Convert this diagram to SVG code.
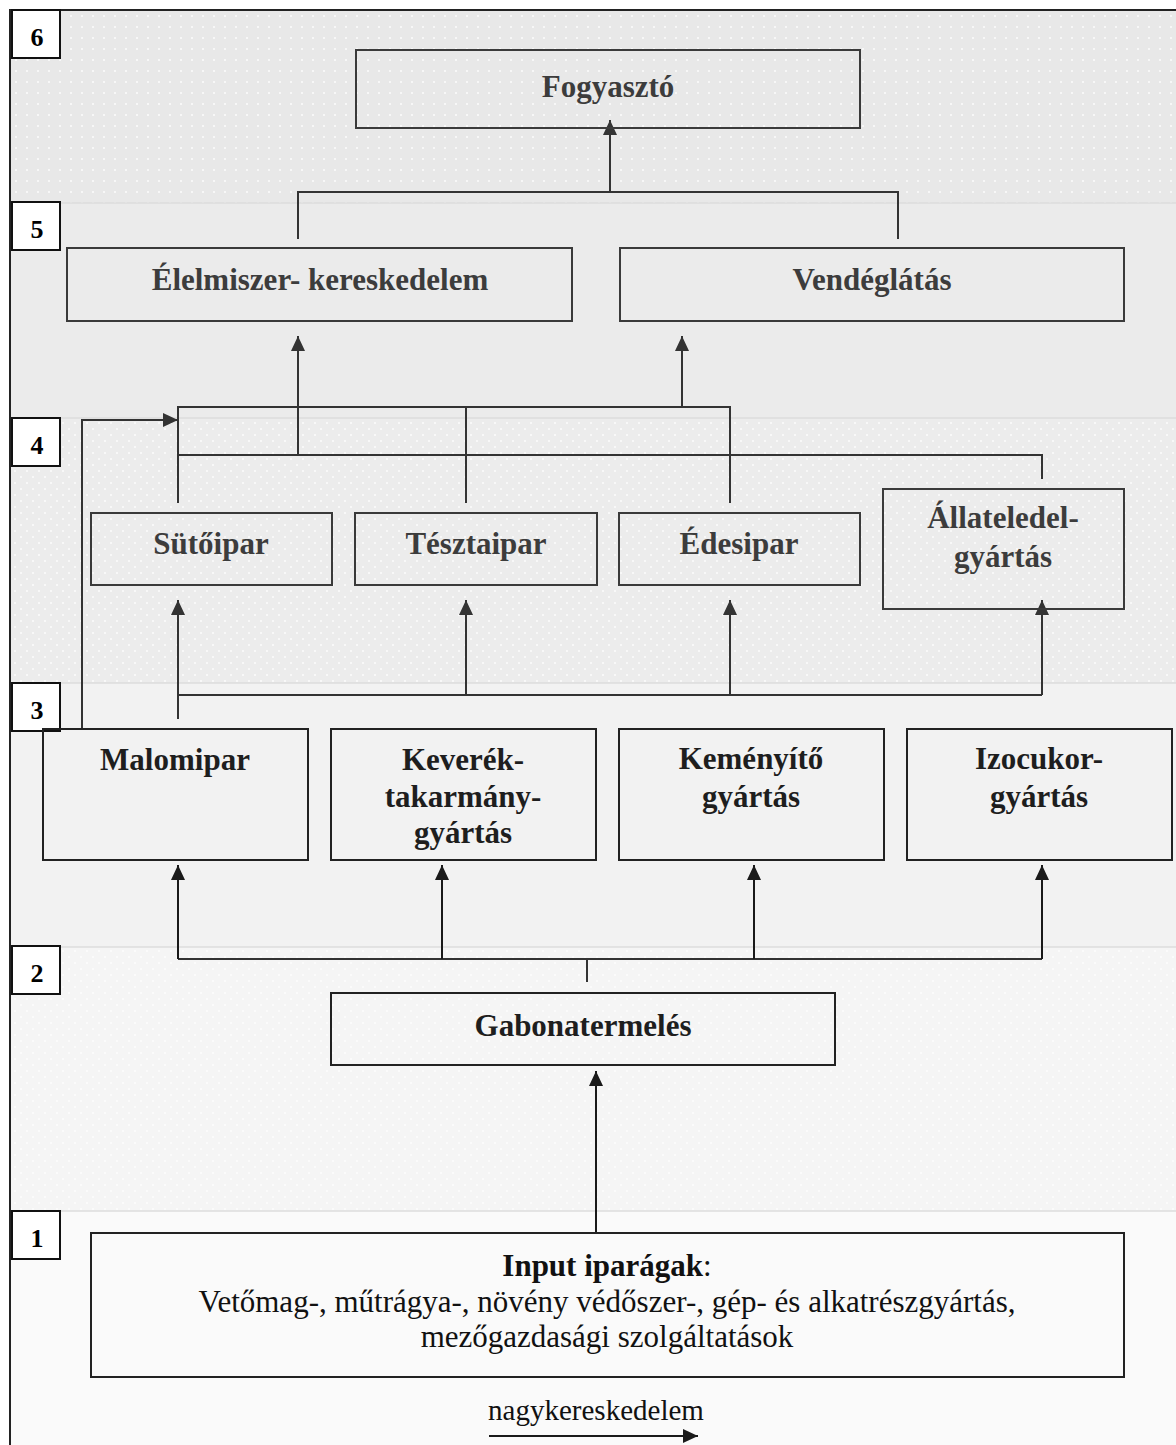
<svg xmlns="http://www.w3.org/2000/svg" width="1176" height="1445" viewBox="0 0 1176 1445">
<style>
text{font-family:"Liberation Serif","Times New Roman",serif}
.nt{font-size:31px;font-weight:bold;fill:#3c3c3c;text-anchor:middle}
.nd{font-size:31px;font-weight:bold;fill:#1e1e1e;text-anchor:middle}
.lb{font-size:26px;font-weight:bold;fill:#000;text-anchor:middle}
.bx{fill:none;stroke:#3a3a3a;stroke-width:2}
.bd{fill:none;stroke:#222;stroke-width:2}
.lbox{fill:#fff;stroke:#111;stroke-width:2}
.cn{fill:none;stroke:#333;stroke-width:2}
.ca{fill:none;stroke:#333;stroke-width:2;marker-end:url(#ah)}
.cb{fill:none;stroke:#1a1a1a;stroke-width:2;marker-end:url(#ahb)}
</style>
<defs>
<marker id="ah" markerUnits="userSpaceOnUse" markerWidth="16" markerHeight="16" viewBox="0 0 16 16" refX="15" refY="8" orient="auto">
<path d="M0,1 L15,8 L0,15 z" fill="#333"/>
</marker>
<marker id="ahb" markerUnits="userSpaceOnUse" markerWidth="16" markerHeight="16" viewBox="0 0 16 16" refX="15" refY="8" orient="auto">
<path d="M0,1 L15,8 L0,15 z" fill="#1a1a1a"/>
</marker>
<pattern id="p6" width="11" height="11" patternUnits="userSpaceOnUse">
<rect width="11" height="11" fill="#e8e8e8"/>
<rect x="4" y="4" width="2" height="2" fill="#f7f7f7"/>
</pattern>
<pattern id="p4" width="12" height="12" patternUnits="userSpaceOnUse">
<rect width="12" height="12" fill="#ececec"/>
<rect x="2" y="2" width="2" height="2" fill="#f8f8f8"/>
<rect x="8" y="8" width="2" height="2" fill="#f8f8f8"/>
</pattern>
<pattern id="p2" width="12" height="12" patternUnits="userSpaceOnUse">
<rect width="12" height="12" fill="#f5f5f5"/>
<rect x="2" y="2" width="2" height="2" fill="#fbfbfb"/>
<rect x="8" y="8" width="2" height="2" fill="#fbfbfb"/>
</pattern>
</defs>

<g id="bands">
<rect x="10" y="10" width="1166" height="193" fill="url(#p6)"/>
<rect x="10" y="203" width="1166" height="215" fill="#ebebeb"/>
<rect x="10" y="418" width="1166" height="265" fill="url(#p4)"/>
<rect x="10" y="683" width="1166" height="264" fill="#f2f2f2"/>
<rect x="10" y="947" width="1166" height="264" fill="url(#p2)"/>
<rect x="10" y="1211" width="1166" height="234" fill="#fafafa"/>
<g stroke="#dcdcdc" stroke-width="1.5">
<line x1="10" y1="203" x2="1176" y2="203"/>
<line x1="10" y1="418" x2="1176" y2="418"/>
<line x1="10" y1="683" x2="1176" y2="683"/>
<line x1="10" y1="947" x2="1176" y2="947"/>
<line x1="10" y1="1211" x2="1176" y2="1211"/>
</g>
<path d="M10,1445 L10,10 L1176,10" fill="none" stroke="#222" stroke-width="2"/>
</g>

<g id="level-labels">
<g id="label-6"><rect class="lbox" x="12" y="10" width="48" height="48"/><text class="lb" x="37" y="46">6</text></g>
<g id="label-5"><rect class="lbox" x="12" y="202" width="48" height="48"/><text class="lb" x="37" y="238">5</text></g>
<g id="label-4"><rect class="lbox" x="12" y="418" width="48" height="48"/><text class="lb" x="37" y="454">4</text></g>
<g id="label-3"><rect class="lbox" x="12" y="683" width="48" height="48"/><text class="lb" x="37" y="719">3</text></g>
<g id="label-2"><rect class="lbox" x="12" y="946" width="48" height="48"/><text class="lb" x="37" y="982">2</text></g>
<g id="label-1"><rect class="lbox" x="12" y="1211" width="48" height="48"/><text class="lb" x="37" y="1247">1</text></g>
</g>

<g id="connectors">
<path class="cn" d="M298,239 V192 H898 V239"/>
<path class="ca" d="M610,192 V120"/>
<path class="ca" d="M298,455 V336"/>
<path class="ca" d="M682,407 V336"/>
<path class="cn" d="M178,503 V407 H730 V503"/>
<path class="cn" d="M466,407 V503"/>
<path class="cn" d="M178,455 H1042 V479"/>
<path class="ca" d="M82,730 V420 H178"/>
<path class="cn" d="M178,719 V695 H1042"/>
<path class="ca" d="M178,695 V600"/>
<path class="ca" d="M466,695 V600"/>
<path class="ca" d="M730,695 V600"/>
<path class="ca" d="M1042,695 V600"/>
<path class="cn" d="M178,959 H1042"/>
<path class="cn" d="M587,959 V982"/>
<path class="cb" d="M178,959 V865"/>
<path class="cb" d="M442,959 V865"/>
<path class="cb" d="M754,959 V865"/>
<path class="cb" d="M1042,959 V865"/>
<path class="cb" d="M596,1233 V1071"/>
<path class="cb" d="M489,1436 H698"/>
</g>

<g id="node-fogyaszto"><rect class="bx" x="356" y="50" width="504" height="78"/><text class="nt" x="608" y="97">Fogyasztó</text></g>
<g id="node-elelmiszer"><rect class="bx" x="67" y="248" width="505" height="73"/><text class="nt" x="320" y="290">Élelmiszer- kereskedelem</text></g>
<g id="node-vendeglatas"><rect class="bx" x="620" y="248" width="504" height="73"/><text class="nt" x="872" y="290">Vendéglátás</text></g>

<g id="node-sutoipar"><rect class="bx" x="91" y="513" width="241" height="72"/><text class="nt" x="211" y="554">Sütőipar</text></g>
<g id="node-tesztaipar"><rect class="bx" x="355" y="513" width="242" height="72"/><text class="nt" x="476" y="554">Tésztaipar</text></g>
<g id="node-edesipar"><rect class="bx" x="619" y="513" width="241" height="72"/><text class="nt" x="739" y="554">Édesipar</text></g>
<g id="node-allateledel"><rect class="bx" x="883" y="489" width="241" height="120"/><text class="nt" x="1003" y="528">Állateledel-</text><text class="nt" x="1003" y="567">gyártás</text></g>

<g id="node-malomipar"><rect class="bd" x="43" y="729" width="265" height="131"/><text class="nd" x="175" y="770">Malomipar</text></g>
<g id="node-keverek"><rect class="bd" x="331" y="729" width="265" height="131"/><text class="nd" x="463" y="770">Keverék-</text><text class="nd" x="463" y="807">takarmány-</text><text class="nd" x="463" y="843">gyártás</text></g>
<g id="node-kemenyito"><rect class="bd" x="619" y="729" width="265" height="131"/><text class="nd" x="751" y="769">Keményítő</text><text class="nd" x="751" y="807">gyártás</text></g>
<g id="node-izocukor"><rect class="bd" x="907" y="729" width="265" height="131"/><text class="nd" x="1039" y="769">Izocukor-</text><text class="nd" x="1039" y="807">gyártás</text></g>

<g id="node-gabona"><rect class="bd" x="331" y="993" width="504" height="72"/><text class="nd" x="583" y="1036">Gabonatermelés</text></g>

<g id="node-input"><rect class="bd" x="91" y="1233" width="1033" height="144"/>
<text x="607" y="1276" text-anchor="middle" font-size="31" fill="#111"><tspan font-weight="bold">Input iparágak</tspan>:</text>
<text x="607" y="1312" text-anchor="middle" font-size="31" fill="#111">Vetőmag-, műtrágya-, növény védőszer-, gép- és alkatrészgyártás,</text>
<text x="607" y="1347" text-anchor="middle" font-size="31" fill="#111">mezőgazdasági szolgáltatások</text>
</g>

<g id="legend"><text x="596" y="1420" text-anchor="middle" font-size="29" fill="#111">nagykereskedelem</text></g>
</svg>
